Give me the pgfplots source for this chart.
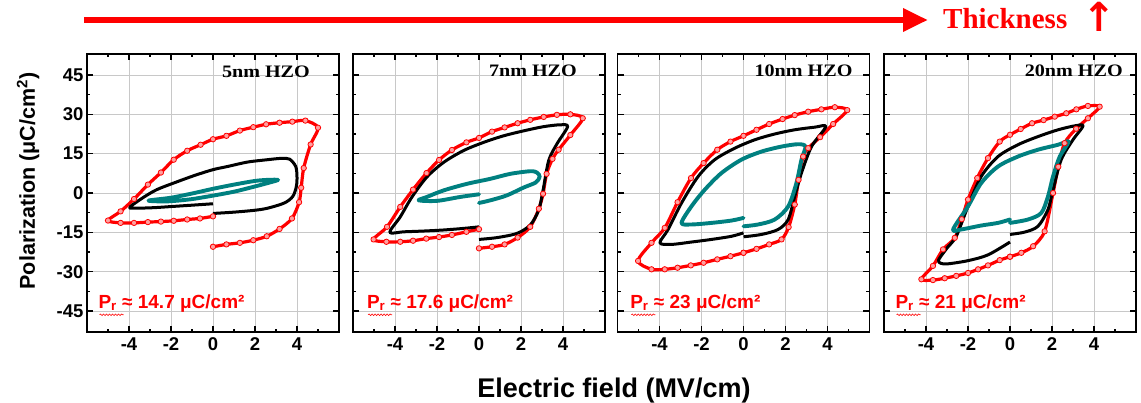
\documentclass[border=0pt]{standalone}
\usepackage{fontspec}
\setmainfont{Liberation Serif}
\newfontfamily\arial{Liberation Sans}
\newfontfamily\tnr{Liberation Serif}
\newfontfamily\djv{DejaVu Sans}
\usepackage{pgfplots}
\pgfplotsset{compat=1.18}
\usetikzlibrary{arrows.meta,decorations.pathmorphing}
\definecolor{tealc}{RGB}{0,128,128}
\definecolor{pinkm}{RGB}{255,160,160}
\definecolor{gridc}{RGB}{200,200,200}

\pgfplotsset{
 panel/.style={
  scale only axis, width=252pt, height=278pt, anchor=south west,
  xmin=-6, xmax=6, ymin=-53, ymax=53,
  xtick={-4,-2,0,2,4}, xticklabels={-4,-2,0,2,4},
  ytick={-45,-30,-15,0,15,30,45}, yticklabels={-45,-30,-15,0,15,30,45},
  minor xtick={-5,-3,-1,1,3,5},
  minor ytick={-37.5,-22.5,-7.5,7.5,22.5,37.5},
  tick align=inside, major tick length=6pt, minor tick length=3pt,
  grid=major, major grid style={gridc, line width=0.7pt},
  axis line style={line width=1.3pt},
  every tick/.style={black, line width=1.1pt},
  ticklabel style={font=\arial\bfseries\fontsize{18.5}{18.5}\selectfont},
  xticklabel style={yshift=-2pt},
  clip=true,
 },
 redl/.style={red, line width=3.2pt, smooth, tension=0.5, line join=round,
   mark=*, mark size=2.7pt, mark options={fill=pinkm, draw=red, line width=0.8pt, solid}},
 blkl/.style={black, line width=3pt, smooth, tension=0.5, line join=round, no marks},
 teall/.style={tealc, line width=3.9pt, smooth, tension=0.5, line join=round, line cap=round, no marks},
}
\tikzset{
 prlab/.style={font=\arial\bfseries\fontsize{19}{19}\selectfont, text=red, anchor=base west, inner sep=0pt},
 hzo/.style={font=\tnr\bfseries\fontsize{17.5}{17.5}\selectfont, anchor=base east, inner sep=0pt},
 squig/.style={red, line width=0.6pt, decorate, decoration={snake, amplitude=0.8pt, segment length=3pt}},
}

\begin{document}
\begin{tikzpicture}
\useasboundingbox (0pt,0pt) rectangle (1141pt,402pt);

% ---------- panel 1 : 5 nm ----------
\begin{axis}[panel, at={(87pt,70pt)}]
\addplot[redl] coordinates {(0,-20.5) (0.64,-19.6) (1.28,-19.0) (1.92,-18.0) (2.56,-16.5) (3.17,-13.7) (3.76,-9.7) (4.1,-3.5) (4.2,2) (4.32,9.5) (4.65,18.5) (5.0,24.9) (4.4,27.6) (3.78,27.2) (3.17,26.8) (2.53,26.2) (1.92,25.1) (1.28,23.8) (0.64,21.8) (0,20.5) (-0.59,18.4) (-1.23,16.1) (-1.87,12.7) (-2.48,7.8) (-3.1,3.2) (-3.76,-2.3) (-4.4,-7.0) (-5.0,-10.5) (-4.4,-11.4) (-3.76,-11.4) (-3.1,-11.1) (-2.48,-10.9) (-1.87,-10.6) (-1.23,-10.1) (-0.62,-9.7) (0,-8.9)};
\addplot[blkl] coordinates {(0,-7.8) (1.0,-7.3) (1.97,-6.6) (2.6,-5.8) (3.4,-3.8) (3.8,-1.3) (3.97,2.5) (4.0,6.3) (3.94,10.1) (3.65,12.9) (3.25,13.2) (2.6,12.7) (1.65,11.8) (0.69,10.1) (0,8.9) (-0.91,6.6) (-1.87,3.8) (-2.67,1.3) (-3.3,-1.6) (-3.95,-5.3) (-3.8,-5.8) (-2.83,-5.6) (-1.87,-5.1) (-0.91,-4.6) (0,-4.1)};
\addplot[teall] coordinates {(0,-1.0) (1.0,0.5) (2.0,2.5) (2.7,4.0) (3.1,5.0) (2.6,5.0) (2.0,4.6) (1.0,3.2) (0,1.6) (-1.0,-0.2) (-2.0,-1.8) (-3.07,-2.9) (-2.2,-3.2) (-1.07,-2.4) (0,-1.0)};
\node[hzo] at (rel axis cs:0.885,0.914) {\scalebox{1.15}[1]{5nm HZO}};
\node[prlab] at (rel axis cs:0.045,0.086) {P\textsubscript{r} ≈ 14.7 μC/cm²};
\draw[squig] (rel axis cs:0.05,0.062) -- (rel axis cs:0.145,0.062);
\end{axis}

% ---------- panel 2 : 7 nm ----------
\begin{axis}[panel, at={(353pt,70pt)}, yticklabels={}]
\addplot[redl] coordinates {(0,-21.1) (0.62,-20.5) (1.22,-19.6) (1.84,-17.0) (2.44,-12.9) (2.85,-6.0) (3.05,-0.3) (3.22,7.3) (3.5,13.0) (3.79,16.5) (4.35,22.1) (4.94,28.5) (4.35,30.0) (3.71,29.8) (3.08,29.0) (2.44,27.9) (1.84,26.6) (1.22,25.0) (0.62,23.4) (0,21.0) (-0.6,19.3) (-1.29,16.4) (-1.9,12.6) (-2.5,7.6) (-3.14,1.3) (-3.75,-5.3) (-4.38,-12.9) (-5.02,-17.7) (-4.41,-18.6) (-3.75,-18.6) (-3.14,-18.2) (-2.51,-17.4) (-1.9,-16.8) (-1.29,-16.0) (-0.6,-14.8) (0,-13.8)};
\addplot[blkl] coordinates {(0,-17.7) (0.86,-17.0) (1.81,-15.4) (2.44,-12.2) (2.84,-6.6) (3.05,1.0) (3.32,12.4) (3.71,18.7) (4.22,25.3) (3.87,26.0) (3.08,25.3) (2.13,23.7) (1.17,21.8) (0.22,19.3) (-0.73,16.2) (-1.68,11.7) (-2.48,6.1) (-3.19,-1.5) (-3.75,-9.1) (-4.25,-15.0) (-3.59,-14.8) (-2.63,-14.5) (-1.68,-14.1) (-0.73,-13.5) (0,-12.9)};
\addplot[teall] coordinates {(0,-3.8) (0.54,-2.8) (1.33,-0.9) (2.13,2.1) (2.7,4.0) (2.89,6.2) (2.76,7.8) (2.44,8.3) (1.49,7.3) (0.54,5.4) (-0.57,3.5) (-1.68,1.0) (-2.48,-1.5) (-2.87,-2.8) (-2.0,-3.0) (-0.89,-1.5) (0,-0.5)};
\node[hzo] at (rel axis cs:0.889,0.918) {\scalebox{1.15}[1]{7nm HZO}};
\node[prlab] at (rel axis cs:0.055,0.086) {P\textsubscript{r} ≈ 17.6 μC/cm²};
\draw[squig] (rel axis cs:0.06,0.062) -- (rel axis cs:0.155,0.062);
\end{axis}

% ---------- panel 3 : 10 nm ----------
\begin{axis}[panel, at={(617.5pt,70pt)}, yticklabels={}]
\addplot[redl] coordinates {(0,-22.8) (0.62,-21.3) (1.22,-19.6) (1.81,-17.7) (2.15,-13.0) (2.44,-4.4) (2.62,5.0) (2.84,13.9) (3.08,17.1) (3.65,21.3) (4.27,26.3) (4.94,31.6) (4.35,32.7) (3.71,31.9) (3.08,31.0) (2.44,29.7) (1.86,28.2) (1.22,26.3) (0.62,24.1) (0,21.8) (-0.62,19.6) (-1.25,16.5) (-1.9,11.4) (-2.5,5.7) (-3.14,-3.5) (-3.75,-13.3) (-4.38,-19.0) (-5.02,-25.9) (-4.38,-29.1) (-3.75,-29.1) (-3.14,-28.5) (-2.51,-27.6) (-1.9,-26.6) (-1.25,-25.3) (-0.62,-24.1) (0,-22.8)};
\addplot[blkl] coordinates {(0,-16.7) (0.86,-15.8) (1.65,-13.9) (2.13,-10.1) (2.44,-1.3) (2.76,7.6) (3.24,17.7) (3.92,25.3) (3.4,25.1) (2.44,24.1) (1.49,22.5) (0.54,20.3) (-0.41,17.1) (-1.37,12.7) (-2.16,6.3) (-2.95,-3.8) (-3.59,-13.9) (-3.98,-19.0) (-3.43,-19.6) (-2.48,-18.7) (-1.52,-17.7) (-0.57,-16.5) (0,-15.2)};
\addplot[teall] coordinates {(0,-12.7) (0.7,-12.0) (1.49,-10.1) (2.13,-5.1) (2.52,3.8) (2.76,12.7) (2.95,17.7) (2.6,18.6) (1.81,17.7) (0.86,15.8) (-0.1,12.7) (-1.05,7.6) (-1.84,1.3) (-2.48,-5.1) (-2.95,-11.4) (-2.48,-12.0) (-1.52,-11.4) (-0.57,-10.5) (0,-9.5)};
\node[hzo] at (rel axis cs:0.933,0.918) {\scalebox{1.15}[1]{10nm HZO}};
\node[prlab] at (rel axis cs:0.05,0.086) {P\textsubscript{r} ≈ 23 μC/cm²};
\draw[squig] (rel axis cs:0.055,0.062) -- (rel axis cs:0.15,0.062);
\end{axis}

% ---------- panel 4 : 20 nm ----------
\begin{axis}[panel, at={(884pt,70pt)}, yticklabels={}]
\addplot[redl] coordinates {(0,-24.3) (0.54,-22.8) (1.1,-20.3) (1.65,-14.6) (2.05,0) (2.3,10.0) (2.6,19.0) (3.15,24.5) (3.71,28.5) (4.27,32.9) (3.71,33.2) (3.16,31.9) (2.68,30.4) (2.13,29.1) (1.6,27.8) (1.05,26.6) (0.51,24.4) (0,22.2) (-0.49,19.6) (-1.05,13.3) (-1.56,5.7) (-2.0,-2.5) (-2.3,-10.0) (-2.63,-17.1) (-3.19,-21.5) (-3.67,-27.8) (-4.22,-32.9) (-3.67,-33.2) (-3.11,-32.5) (-2.56,-31.6) (-2.0,-30.5) (-1.52,-29.1) (-1.05,-27.6) (-0.49,-25.6) (0,-24.3)};
\addplot[blkl] coordinates {(0,-15.8) (0.7,-14.9) (1.33,-12.7) (1.81,-6.3) (2.05,1.3) (2.44,12.7) (3.0,20.3) (3.48,25.6) (3.08,25.6) (2.29,24.1) (1.33,21.5) (0.38,18.4) (-0.57,13.9) (-1.37,6.3) (-2.0,-5.1) (-2.56,-16.5) (-3.0,-21.0) (-3.4,-25.5) (-3.3,-26.8) (-2.95,-27.0) (-2.0,-25.8) (-1.05,-23.6) (0,-18.7)};
\addplot[teall] coordinates {(0,-11.4) (0.86,-10.1) (1.49,-7.6) (1.81,-1.3) (2.05,6.3) (2.37,13.9) (2.79,19.6) (2.29,18.4) (1.33,16.5) (0.38,13.9) (-0.57,10.1) (-1.37,3.8) (-2.0,-5.1) (-2.71,-13.9) (-2.32,-13.9) (-1.37,-12.4) (-0.57,-11.4) (0,-10.1)};
\node[hzo] at (rel axis cs:0.948,0.918) {\scalebox{1.15}[1]{20nm HZO}};
\node[prlab] at (rel axis cs:0.045,0.086) {P\textsubscript{r} ≈ 21 μC/cm²};
\draw[squig] (rel axis cs:0.05,0.062) -- (rel axis cs:0.145,0.062);
\end{axis}

% ---------- axis titles ----------
\node[font=\arial\bfseries\fontsize{27}{27}\selectfont, anchor=base] at (614pt,5pt) {Electric field (MV/cm)};
\node[font=\arial\bfseries\fontsize{21.5}{21.5}\selectfont, rotate=90, anchor=center] at (28pt,221pt) {Polarization (μC/cm\textsuperscript{2})};

% ---------- thickness arrow ----------
\draw[red, line width=6.5pt, -{Triangle[length=25pt,width=22pt]}] (84pt,382pt) -- (928pt,382pt);
\node[font=\tnr\bfseries\fontsize{29}{29}\selectfont, text=red, anchor=base west, inner sep=0pt] at (943pt,373pt) {Thickness};
\node[font=\djv\bfseries\fontsize{40}{40}\selectfont, text=red, anchor=base west, inner sep=0pt] at (1082pt,370pt) {↑};
\end{tikzpicture}
\end{document}
